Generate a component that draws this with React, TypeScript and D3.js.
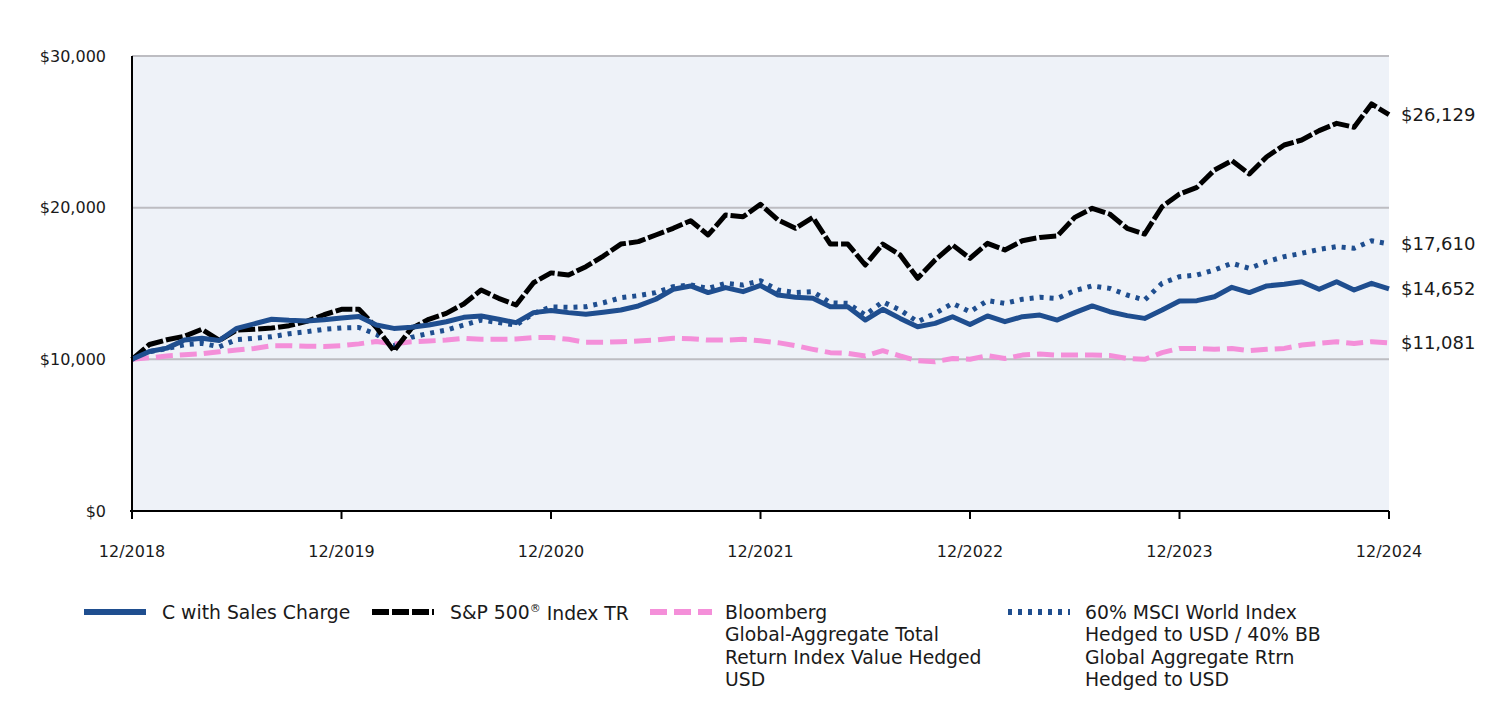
import React from "react";
import * as d3 from "d3";

const months: string[] = d3.range(73).map((i) => {
  const d = new Date(2018, 11 + i, 1);
  return `${d.getMonth() + 1}/${d.getFullYear()}`;
});
const tickLabels = ["12/2018", "12/2019", "12/2020", "12/2021", "12/2022", "12/2023", "12/2024"];
const yTicks = [0, 10000, 20000, 30000];

const classC = [10000, 10520, 10740, 11270, 11390, 11240, 12040, 12340, 12640, 12570, 12530, 12610, 12720,
  12830, 12260, 12040, 12110, 12260, 12480, 12770, 12860, 12640, 12420, 13080, 13220,
  13080, 12970, 13100, 13250, 13520, 13960, 14620, 14840, 14400, 14730, 14460, 14870,
  14240, 14090, 14020, 13470, 13470, 12590, 13300, 12700, 12150, 12370, 12810, 12300,
  12860, 12480, 12810, 12920, 12590, 13080, 13520, 13140, 12880, 12700, 13250, 13840,
  13870, 14130, 14750, 14400, 14840, 14950, 15120, 14620, 15120, 14570, 15010, 14652];

const sp500 = [10000, 10980, 11290, 11520, 11980, 11250, 11930, 11980, 12060, 12220, 12500, 12940, 13300,
  13300, 12100, 10550, 12040, 12640, 13030, 13650, 14570, 14020, 13580, 15050, 15700,
  15560, 16110, 16810, 17600, 17760, 18200, 18640, 19140, 18200, 19520, 19400, 20220,
  19190, 18640, 19360, 17600, 17600, 16220, 17600, 16880, 15340, 16550, 17540, 16660,
  17650, 17210, 17820, 18040, 18130, 19360, 19960, 19580, 18640, 18260, 20060, 20900,
  21340, 22480, 23100, 22220, 23360, 24130, 24460, 25080, 25560, 25300, 26840, 26129];

const bbgAgg = [10000, 10100, 10220, 10300, 10370, 10500, 10610, 10720, 10900, 10900, 10860, 10850, 10900,
  11020, 11180, 11010, 11160, 11210, 11270, 11390, 11320, 11320, 11340, 11430, 11440,
  11320, 11120, 11120, 11160, 11210, 11270, 11390, 11360, 11270, 11270, 11320, 11220,
  11100, 10900, 10660, 10440, 10400, 10220, 10570, 10220, 9910, 9840, 10060, 10010,
  10240, 10060, 10280, 10350, 10280, 10280, 10280, 10260, 10060, 10000, 10440, 10720,
  10720, 10660, 10720, 10570, 10660, 10720, 10940, 11050, 11160, 11050, 11160, 11081];

const blend6040 = [10000, 10500, 10720, 10960, 11050, 10830, 11300, 11390, 11490, 11690, 11820, 11980, 12070,
  12100, 11650, 10900, 11450, 11710, 11930, 12260, 12590, 12420, 12260, 13030, 13450,
  13430, 13470, 13730, 14060, 14200, 14400, 14790, 14900, 14680, 15010, 14900, 15180,
  14570, 14400, 14460, 13730, 13690, 12920, 13800, 13250, 12480, 13030, 13690, 13140,
  13870, 13690, 13960, 14090, 14020, 14530, 14840, 14680, 14240, 13910, 15010, 15450,
  15560, 15890, 16330, 16000, 16440, 16770, 16990, 17250, 17430, 17320, 17820, 17610];

const seriesNames = [
  ["C with Sales Charge"],
  ["S&P 500", "®", " Index TR"],
  ["Bloomberg", "Global-Aggregate Total", "Return Index Value Hedged", "USD"],
  ["60% MSCI World Index", "Hedged to USD / 40% BB", "Global Aggregate Rtrn", "Hedged to USD"],
];

const BLUE = "#1f4e8f";
const PINK = "#f48fd9";
const FONT = "'DejaVu Sans', sans-serif";

export default function App() {
  const left = 132, right = 1389, top = 56, bottom = 511;
  const x = d3.scaleLinear().domain([0, months.length - 1]).range([left, right]);
  const y = d3.scaleLinear().domain([0, 30000]).range([bottom, top]);
  const line = d3.line<number>().x((_, i) => x(i)).y((v) => y(v));
  const fmt = d3.format("$,");

  const series = [
    { data: classC, color: BLUE, dash: undefined as string | undefined },
    { data: sp500, color: "#000", dash: "17,3" },
    { data: bbgAgg, color: PINK, dash: "17,7" },
    { data: blend6040, color: BLUE, dash: "4,6" },
  ];
  const drawOrder = [3, 2, 1, 0];
  const legendX = [84, 372, 650, 1008];
  const legendTextX = [162, 450, 725, 1085];
  const LF = 18.8;

  return (
    <div style={{ position: "absolute", left: 0, top: 0 }}>
      <svg width={1512} height={708} style={{ display: "block" }}>
        <rect x={left} y={top} width={right - left} height={bottom - top} fill="#eef2f8" />
        {yTicks.filter((t) => t > 0).map((t) => (
          <line key={t} x1={left} x2={right} y1={y(t)} y2={y(t)} stroke="#bdbdc2" strokeWidth={2} />
        ))}
        {yTicks.map((t) => (
          <text key={"l" + t} x={106} y={y(t)} dy="0.35em" textAnchor="end" fontFamily={FONT} fontSize={16} fill="#1a1a1a">
            {fmt(t)}
          </text>
        ))}
        {drawOrder.map((k) => (
          <path key={k} d={line(series[k].data) || ""} fill="none" stroke={series[k].color} strokeWidth={5}
            strokeDasharray={series[k].dash} strokeLinejoin="round" />
        ))}
        <line x1={left} x2={left} y1={top} y2={bottom + 8} stroke="#000" strokeWidth={2} />
        <line x1={left - 2} x2={right} y1={bottom} y2={bottom} stroke="#000" strokeWidth={2} />
        {tickLabels.map((lab, j) => (
          <g key={lab}>
            <line x1={x(j * 12)} x2={x(j * 12)} y1={bottom} y2={bottom + 8} stroke="#000" strokeWidth={2} />
            <text x={x(j * 12)} y={557} textAnchor="middle" fontFamily={FONT} fontSize={16} fill="#1a1a1a">{lab}</text>
          </g>
        ))}
        {series.map((s, k) => {
          const v = s.data[s.data.length - 1];
          return (
            <text key={"e" + k} x={1401} y={y(v)} dy="0.35em" fontFamily={FONT} fontSize={18} fill="#1a1a1a">
              {fmt(v)}
            </text>
          );
        })}
        {series.map((s, k) => (
          <g key={"lg" + k}>
            <line x1={legendX[k]} x2={legendX[k] + 62} y1={612} y2={612} stroke={s.color} strokeWidth={6}
              strokeDasharray={s.dash} />
            {k === 1 ? (
              <text x={legendTextX[k]} y={612} dy="0.35em" fontFamily={FONT} fontSize={LF} fill="#1a1a1a">
                {seriesNames[1][0]}
                <tspan fontSize={11} dy="-0.6em">{seriesNames[1][1]}</tspan>
                <tspan dy="0.4em">{seriesNames[1][2]}</tspan>
              </text>
            ) : (
              seriesNames[k].map((ln, li) => (
                <text key={li} x={legendTextX[k]} y={612 + li * 22.5} dy="0.35em" fontFamily={FONT} fontSize={LF} fill="#1a1a1a">
                  {ln}
                </text>
              ))
            )}
          </g>
        ))}
      </svg>
    </div>
  );
}
